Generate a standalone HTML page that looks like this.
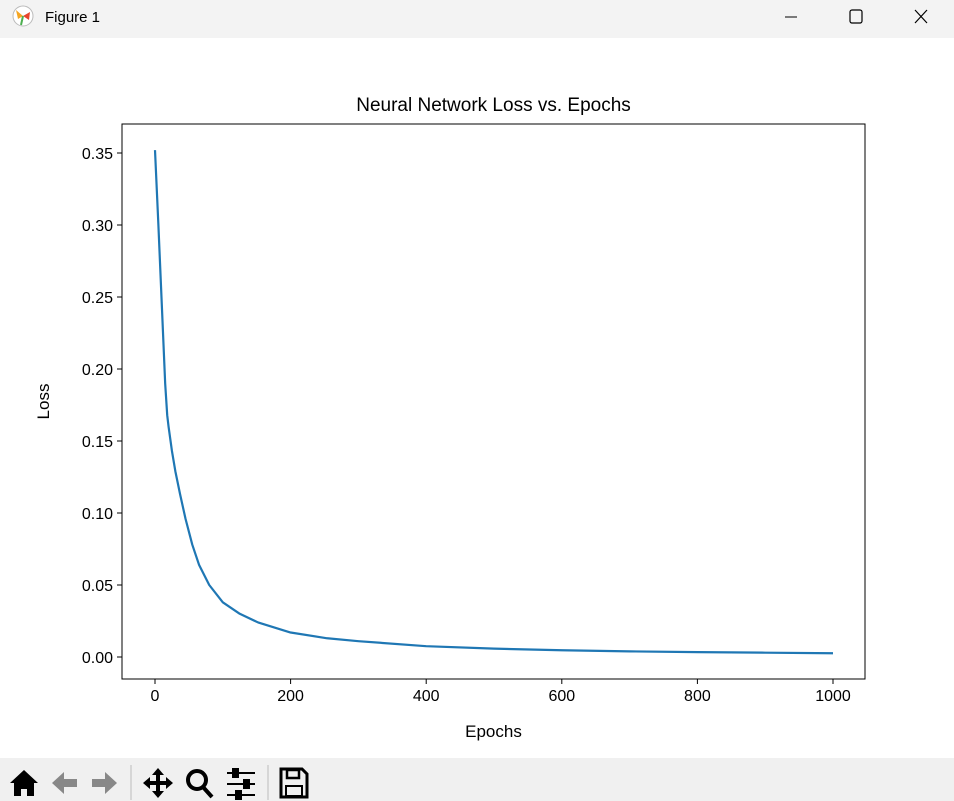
<!DOCTYPE html>
<html><head><meta charset="utf-8"><style>
html,body{margin:0;padding:0;background:#fff;width:954px;height:801px;overflow:hidden;font-family:"Liberation Sans","DejaVu Sans",sans-serif}
</style></head><body>
<svg id="root" width="954" height="801" xmlns="http://www.w3.org/2000/svg">
<rect x="0" y="0" width="954" height="38" fill="#f3f3f3"/>
<g><circle cx="23" cy="16" r="10" fill="#fff" stroke="#bbb"/><path d="M23 16 L16 10 L18 19Z" fill="#f5a623"/><path d="M23 16 L30 12 L29 20Z" fill="#e8452c"/><path d="M23 16 L21 25" stroke="#4caf50" stroke-width="2"/></g>
<text x="45" y="22" font-size="15" fill="#000">Figure 1</text>
<line x1="785" y1="17" x2="797" y2="17" stroke="#000" stroke-width="1"/>
<rect x="850" y="10" width="12" height="13" rx="2" fill="none" stroke="#000" stroke-width="1.2"/>
<path d="M915 10 L927 23 M927 10 L915 23" stroke="#000" stroke-width="1.2"/>
<rect x="0" y="758" width="954" height="43" fill="#f0f0f0"/>
<g><path d="M10 783 L24 770 L38 783 L34 783 L34 796 L27 796 L27 789 L21 789 L21 796 L14 796 L14 783Z" fill="#000"/></g>
<g><path d="M52 783 L64 772 L64 779 L77 779 L77 787 L64 787 L64 794Z" fill="#888"/></g>
<g><path d="M117 783 L105 772 L105 779 L92 779 L92 787 L105 787 L105 794Z" fill="#888"/></g>
<line x1="131" y1="765" x2="131" y2="800" stroke="#bbb"/>
<g><path d="M158 768 L164 775 L160 775 L160 781 L166 781 L166 777 L173 783 L166 789 L166 785 L160 785 L160 791 L164 791 L158 798 L152 791 L156 791 L156 785 L150 785 L150 789 L143 783 L150 777 L150 781 L156 781 L156 775 L152 775Z" fill="#000"/></g>
<g><circle cx="197" cy="780" r="9" fill="none" stroke="#000" stroke-width="4"/><line x1="203" y1="787" x2="212" y2="797" stroke="#000" stroke-width="4"/></g>
<g stroke="#000" stroke-width="2"><line x1="227" y1="773" x2="255" y2="773"/><line x1="227" y1="784" x2="255" y2="784"/><line x1="227" y1="795" x2="255" y2="795"/><rect x="233" y="769" width="5" height="8" fill="#000"/><rect x="244" y="780" width="5" height="8" fill="#000"/><rect x="236" y="791" width="5" height="8" fill="#000"/></g>
<line x1="268" y1="765" x2="268" y2="800" stroke="#bbb"/>
<g><path d="M281 769 L302 769 L307 774 L307 797 L281 797Z" fill="none" stroke="#000" stroke-width="3"/><rect x="287" y="770" width="12" height="8" fill="none" stroke="#000" stroke-width="2.5"/><rect x="286" y="786" width="16" height="10" fill="none" stroke="#000" stroke-width="2"/></g>
<g id="chart"></g>
</svg>
<script>
const epochs=[0,5,10,15,18,20,25,30,37,45,55,65,80,100,125,152,200,254,300,400,500,600,700,800,900,1000];
const loss=[0.352,0.30,0.245,0.19,0.168,0.160,0.143,0.129,0.113,0.096,0.078,0.064,0.050,0.038,0.030,0.024,0.017,0.013,0.011,0.0075,0.0058,0.0047,0.0039,0.0034,0.0030,0.0026];
const xTicks=[0,200,400,600,800,1000];
const yTicks=[0.00,0.05,0.10,0.15,0.20,0.25,0.30,0.35];
const L=122,R=865,T=124,B=679;
const sx=v=>155+v*(833-155)/1000;
const sy=v=>657-v*(657-153)/0.35;
const NS="http://www.w3.org/2000/svg";
const g=document.getElementById('chart');
function mk(t,a){const e=document.createElementNS(NS,t);for(const k in a)e.setAttribute(k,a[k]);g.appendChild(e);return e;}
let e=mk('rect',{x:L,y:T,width:R-L,height:B-T,fill:'#fff',stroke:'#000','stroke-width':1});


xTicks.forEach(v=>{const x=sx(v);
 let t=mk('line',{x1:x,y1:B,x2:x,y2:B+5,stroke:'#000'});
 
 
 let l=mk('text',{x:x,y:B+22,'font-size':16,'text-anchor':'middle'});l.textContent=v;
 
 });
yTicks.forEach(v=>{const y=sy(v);
 let t=mk('line',{x1:L-5,y1:y,x2:L,y2:y,stroke:'#000'});
 
 
 let l=mk('text',{x:L-9,y:y+6,'font-size':16,'text-anchor':'end'});l.textContent=v.toFixed(2);
 
 });
let p=mk('polyline',{points:epochs.map((v,i)=>sx(v)+','+sy(loss[i])).join(' '),fill:'none',stroke:'#1f77b4','stroke-width':2.2,'stroke-linejoin':'round'});


let tt=mk('text',{x:(L+R)/2,y:111,'font-size':19,'text-anchor':'middle'});tt.textContent='Neural Network Loss vs. Epochs';


let xl=mk('text',{x:(L+R)/2,y:737,'font-size':17,'text-anchor':'middle'});xl.textContent='Epochs';


let yl=mk('text',{x:49,y:(T+B)/2,'font-size':17,'text-anchor':'middle',transform:'rotate(-90 49 '+((T+B)/2)+')'});yl.textContent='Loss';


</script>
</body></html>
